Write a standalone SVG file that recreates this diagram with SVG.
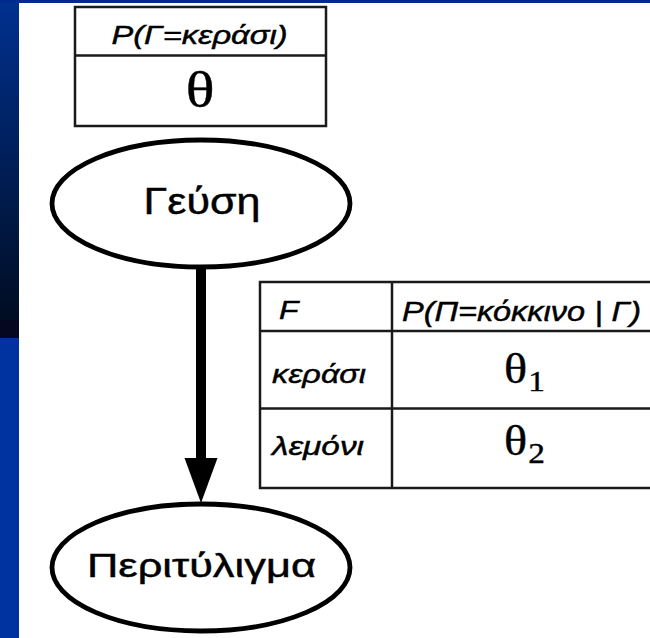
<svg xmlns="http://www.w3.org/2000/svg" width="650" height="638" viewBox="0 0 650 638">
<defs>
<linearGradient id="strip" x1="0" y1="0" x2="0" y2="1">
<stop offset="0" stop-color="#00308f"/>
<stop offset="1" stop-color="#000d22"/>
</linearGradient>
<style>
.sans{font-family:"Liberation Sans",Arial,sans-serif;fill:#000;stroke:#000;stroke-width:0.45}
.it{font-style:italic}
.serif{font-family:"Liberation Serif","Times New Roman",serif;fill:#000;stroke:#000;stroke-width:0.4}
.box{fill:#fff;stroke:#1a1a1a;stroke-width:2.5}
.grid{stroke:#1a1a1a;stroke-width:2.5;fill:none}
.node{fill:#fff;stroke:#000;stroke-width:4.8}
</style>
</defs>
<rect x="0" y="0" width="650" height="638" fill="#fff"/>
<rect x="0" y="0" width="19" height="320" fill="url(#strip)"/>
<rect x="0" y="320" width="19" height="18" fill="#05061f"/>
<rect x="0" y="338" width="19" height="300" fill="#0033a0"/>
<rect x="0" y="0" width="650" height="3" fill="#002b8c"/>

<g id="prior-table">
<rect class="box" x="75" y="7" width="251" height="119"/>
<line class="grid" x1="75" y1="55.5" x2="326" y2="55.5"/>
<text class="sans it" font-size="25.5" text-anchor="middle" x="199.5" y="43.5" textLength="176" lengthAdjust="spacingAndGlyphs">P(Γ=κεράσι)</text>
<text class="serif" font-size="50" text-anchor="middle" transform="translate(200 106.5) scale(1.2 1)">θ</text>
</g>

<g id="connectors">
<line x1="201" y1="268" x2="201" y2="462" stroke="#000" stroke-width="10"/>
<polygon points="184.5,458 217.5,458 201,503" fill="#000"/>
</g>

<g id="node-geusi">
<ellipse class="node" cx="201" cy="203.5" rx="149" ry="63.5"/>
<text class="sans" font-size="36" text-anchor="middle" x="202" y="214" textLength="117" lengthAdjust="spacingAndGlyphs">Γεύση</text>
</g>

<g id="cpt-table">
<rect class="box" x="260" y="282" width="400" height="206"/>
<line class="grid" x1="260" y1="331" x2="660" y2="331"/>
<line class="grid" x1="260" y1="408.5" x2="660" y2="408.5"/>
<line class="grid" x1="392" y1="282" x2="392" y2="488"/>
<text class="sans it" font-size="26" transform="translate(279 318.5) scale(1.22 1)">F</text>
<text class="sans it" font-size="27" x="402" y="320.5" textLength="239" lengthAdjust="spacingAndGlyphs">P(Π=κόκκινο | Γ)</text>
<text class="sans it" font-size="26.5" x="272" y="383" textLength="94" lengthAdjust="spacingAndGlyphs">κεράσι</text>
<text class="sans it" font-size="26.5" x="272" y="455" textLength="92" lengthAdjust="spacingAndGlyphs">λεμόνι</text>
<text class="serif" font-size="42" transform="translate(504 383) scale(1.15 1)">θ<tspan font-size="29" dx="1" dy="8">1</tspan></text>
<text class="serif" font-size="42" transform="translate(504 455) scale(1.15 1)">θ<tspan font-size="29" dx="1" dy="8">2</tspan></text>
</g>

<g id="node-peritiligma">
<ellipse class="node" cx="201" cy="567.5" rx="149" ry="63.5"/>
<text class="sans" font-size="33.5" text-anchor="middle" x="201.5" y="577" textLength="229" lengthAdjust="spacingAndGlyphs">Περιτύλιγμα</text>
</g>
</svg>
